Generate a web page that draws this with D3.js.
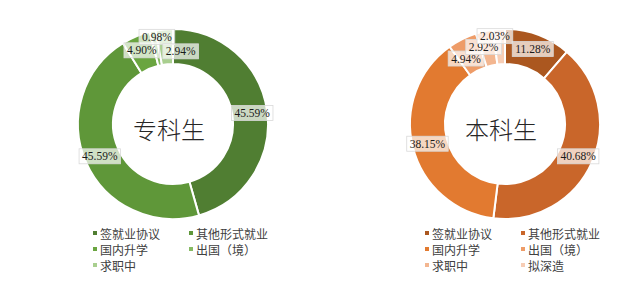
<!DOCTYPE html>
<html>
<head>
<meta charset="utf-8">
<script src="https://cdn.jsdelivr.net/npm/d3@7"></script>
<style>
  body { margin: 0; background: #fff; }
  svg { display: block; }
</style>
</head>
<body>
<svg id="chart"></svg>
<script>
// 图例类别
const categories = ['签就业协议', '其他形式就业', '国内升学', '出国（境）', '求职中', '拟深造']
// 专科生 / 本科生 百分比
const zhuankeValues = [45.59, 45.59, 4.90, 0.98, 2.94]
const benkeValues = [11.28, 40.68, 38.15, 4.94, 2.92, 2.03]
const titles = ['专科生', '本科生']

const greens = ['#507e32', '#5f9739', '#6aa540', '#86ba63', '#a9cf8f']
const oranges = ['#ab571f', '#c9662a', '#e27a30', '#ee9c68', '#f3b690', '#f7cdb5']

var width = 639
var height = 306
var svg = d3.select('#chart').attr('width', width).attr('height', height)

var outerR = 95
var innerR = 60
var labelR = 80

var pie = d3.pie().sort(null).value(function (d) { return d })
var arc = d3.arc().innerRadius(innerR).outerRadius(outerR)
var labelArc = d3.arc().innerRadius(labelR).outerRadius(labelR)

// 小扇区标签避让偏移
var nudgeLeft = [[0, 0], [0, 0], [0, 0], [1, -9], [15, 7]]
var nudgeRight = [[0, 0], [0, 0], [0, 0], [-3, 6], [-4, 1], [-5, -8]]

function donut(cx, cy, values, colors, title, nudge) {
  var g = svg.append('g').attr('transform', 'translate(' + cx + ',' + cy + ')')
  var arcs = pie(values)

  g.selectAll('path').data(arcs).enter().append('path')
    .attr('d', arc)
    .attr('fill', function (d, i) { return colors[i] })
    .attr('stroke', '#fff')
    .attr('stroke-width', 2)

  g.append('text')
    .attr('x', -4)
    .attr('y', 4)
    .attr('text-anchor', 'middle')
    .attr('dominant-baseline', 'central')
    .attr('font-family', '"Noto Sans CJK SC", sans-serif')
    .attr('font-size', '24px')
    .attr('font-weight', 300)
    .attr('fill', '#262626')
    .text(title)

  var labels = g.selectAll('g.lbl').data(arcs).enter().append('g').attr('class', 'lbl')
    .attr('transform', function (d, i) {
      var c = labelArc.centroid(d)
      return 'translate(' + (c[0] + nudge[i][0]) + ',' + (c[1] + nudge[i][1]) + ')'
    })
  labels.append('rect')
    .attr('fill', '#fff')
    .attr('fill-opacity', 0.7)
    .attr('stroke', '#d9d9d9')
    .attr('stroke-width', 0.8)
  labels.append('text')
    .attr('text-anchor', 'middle')
    .attr('dominant-baseline', 'central')
    .attr('font-family', '"Liberation Serif", serif')
    .attr('font-size', '11.5px')
    .attr('fill', '#1a1a1a')
    .text(function (d) { return d.data.toFixed(2) + '%' })
  labels.each(function () {
    var t = d3.select(this).select('text')
    var w = t.node().getComputedTextLength()
    d3.select(this).select('rect')
      .attr('x', -w / 2 - 3).attr('y', -7.5)
      .attr('width', w + 6).attr('height', 15)
  })

  // 图例
  var colX = d3.scaleOrdinal().domain([0, 1]).range([cx - 78, cx + 18])
  var rowY = d3.scaleLinear().domain([0, 1]).range([233, 249])
  var leg = svg.append('g').selectAll('g').data(values).enter().append('g')
    .attr('transform', function (d, i) {
      return 'translate(' + colX(i % 2) + ',' + rowY(Math.floor(i / 2)) + ')'
    })
  leg.append('rect')
    .attr('x', -2).attr('y', -2).attr('width', 4).attr('height', 4)
    .attr('fill', function (d, i) { return colors[i] })
  leg.append('text')
    .attr('x', 5)
    .attr('dominant-baseline', 'central')
    .attr('font-family', '"Noto Sans CJK SC", sans-serif')
    .attr('font-size', '12px')
    .attr('fill', '#404040')
    .text(function (d, i) { return categories[i] })
}

donut(173, 124, zhuankeValues, greens, titles[0], nudgeLeft)
donut(505, 124, benkeValues, oranges, titles[1], nudgeRight)
</script>
</body>
</html>
